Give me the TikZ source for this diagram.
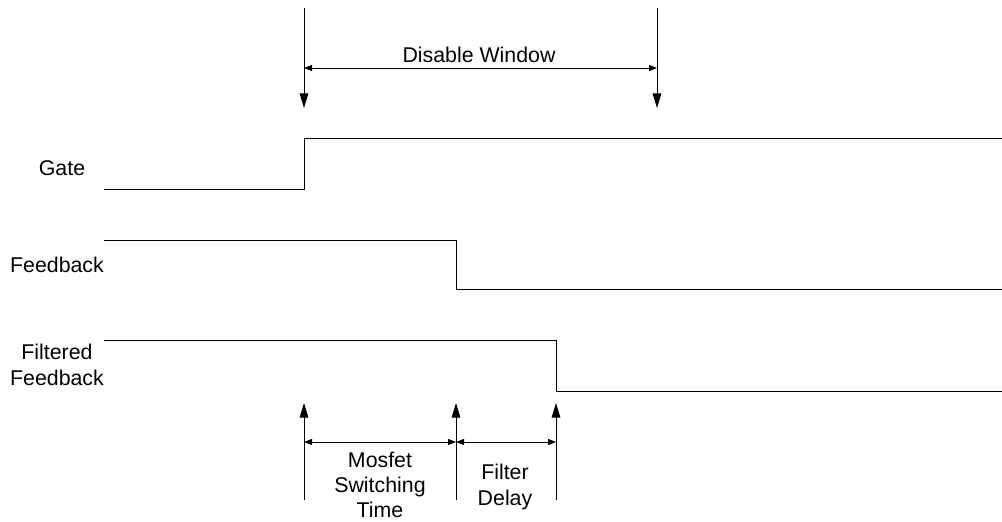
\documentclass[tikz,border=0pt]{standalone}
\usepackage{fontspec}
\setmainfont{Liberation Sans}
\usetikzlibrary{arrows.meta}
\tikzset{
  wave/.style={line width=0.75pt},
  marker/.style={line width=0.75pt, -{Triangle[length=11pt,width=6.5pt]}},
  span/.style={line width=0.75pt, {Triangle[length=6pt,width=4.5pt]}-{Triangle[length=6pt,width=4.5pt]}},
  label/.style={inner sep=0pt, align=center, font=\fontsize{16}{19}\selectfont}
}
\begin{document}
\begin{tikzpicture}[x=0.75pt,y=0.75pt,yscale=-1,xscale=1]
\useasboundingbox (0,0) rectangle (1002,521);

% Coordinates
\coordinate (dwL top) at (304,8);
\coordinate (dwL tip) at (304,108);
\coordinate (dwR top) at (657,8);
\coordinate (dwR tip) at (657,108);
\coordinate (dwL mid) at (304,68);
\coordinate (dwR mid) at (657,68);

\coordinate (g0) at (104,189);
\coordinate (g1) at (304,189);
\coordinate (g2) at (304,138);
\coordinate (g3) at (1002,138);

\coordinate (f0) at (104,240);
\coordinate (f1) at (456,240);
\coordinate (f2) at (456,289);
\coordinate (f3) at (1002,289);

\coordinate (ff0) at (104,340);
\coordinate (ff1) at (556,340);
\coordinate (ff2) at (556,391);
\coordinate (ff3) at (1002,391);

\coordinate (ms bot) at (304,500);
\coordinate (ms tip) at (304,403);
\coordinate (me bot) at (456,500);
\coordinate (me tip) at (456,403);
\coordinate (fd bot) at (556,500);
\coordinate (fd tip) at (556,403);
\coordinate (ms mid) at (304,442);
\coordinate (me mid) at (456,442);
\coordinate (fd mid) at (556,442);

%Straight Lines: disable window markers
\draw [marker] (dwL top) -- (dwL tip);
\draw [marker] (dwR top) -- (dwR tip);
\draw [span] (dwL mid) -- (dwR mid);

%Straight Lines: waveforms
\draw [wave] (g0) -- (g1) -- (g2) -- (g3);
\draw [wave] (f0) -- (f1) -- (f2) -- (f3);
\draw [wave] (ff0) -- (ff1) -- (ff2) -- (ff3);

%Straight Lines: timing markers
\draw [marker] (ms bot) -- (ms tip);
\draw [marker] (me bot) -- (me tip);
\draw [marker] (fd bot) -- (fd tip);
\draw [span] (ms mid) -- (me mid);
\draw [span] (me mid) -- (fd mid);

% Text Node
\node (dw) [label, anchor=base] at (479,62) {Disable Window};
% Text Node
\node (gate) [label, anchor=base] at (62,175) {Gate};
% Text Node
\node (fb) [label, anchor=base] at (57,272) {Feedback};
% Text Node
\node (ffb) [label] at (57,365) {Filtered\\Feedback};
% Text Node
\node (mst) [label] at (380,485) {Mosfet\\Switching\\Time};
% Text Node
\node (fdl) [label] at (505,487) {Filter\\Delay};

\end{tikzpicture}
\end{document}
